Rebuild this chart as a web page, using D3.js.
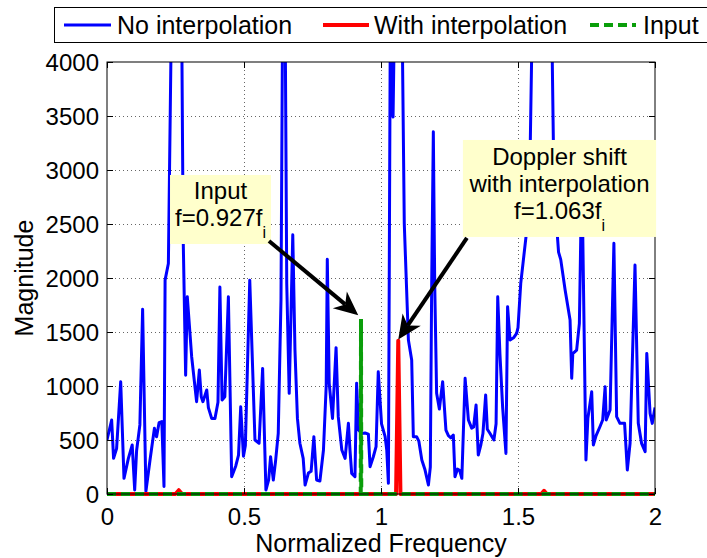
<!DOCTYPE html>
<html>
<head>
<meta charset="utf-8">
<script src="https://cdn.jsdelivr.net/npm/d3@7"></script>
<style>
  html, body { margin: 0; padding: 0; background: #fff; }
  svg text { font-family: "Liberation Sans", Arial, Helvetica, sans-serif; fill: #000; }
</style>
</head>
<body>
<svg id="chart" width="707" height="558"></svg>
<script>
// Spectrum without interpolation (normalized frequency, magnitude)
const blueFreq = [0.000,0.017,0.024,0.035,0.050,0.062,0.078,0.092,0.101,0.108,0.120,0.130,0.142,0.157,0.173,0.181,0.190,0.200,0.208,0.212,0.224,0.236,0.255,0.272,0.278,0.287,0.293,0.309,0.327,0.337,0.344,0.350,0.364,0.370,0.382,0.394,0.405,0.412,0.420,0.430,0.443,0.455,0.470,0.480,0.488,0.498,0.505,0.521,0.540,0.555,0.568,0.580,0.590,0.597,0.607,0.615,0.625,0.635,0.641,0.650,0.656,0.665,0.678,0.686,0.695,0.704,0.716,0.723,0.735,0.745,0.755,0.765,0.777,0.790,0.800,0.804,0.811,0.823,0.836,0.844,0.857,0.869,0.881,0.887,0.893,0.905,0.911,0.918,0.930,0.942,0.954,0.960,0.972,0.982,0.990,1.002,1.015,1.021,1.027,1.034,1.040,1.044,1.049,1.062,1.077,1.085,1.100,1.112,1.118,1.130,1.138,1.149,1.160,1.173,1.180,1.185,1.191,1.196,1.203,1.213,1.225,1.237,1.246,1.255,1.264,1.270,1.279,1.287,1.295,1.307,1.319,1.331,1.338,1.347,1.355,1.364,1.372,1.382,1.388,1.398,1.412,1.420,1.426,1.434,1.444,1.456,1.462,1.471,1.485,1.495,1.500,1.510,1.530,1.545,1.552,1.590,1.623,1.629,1.644,1.648,1.656,1.672,1.690,1.696,1.700,1.714,1.724,1.733,1.748,1.755,1.769,1.775,1.785,1.799,1.809,1.818,1.822,1.836,1.850,1.860,1.872,1.889,1.899,1.909,1.927,1.939,1.951,1.964,1.970,1.982,1.990,2.000];
const blueMag  = [500,685,330,420,1040,145,330,454,37,400,640,1710,25,315,608,530,660,670,70,1980,2135,4600,5200,4600,2380,1100,1827,1271,855,1148,900,855,963,800,700,700,850,1916,870,900,1827,160,260,360,808,350,450,1980,500,470,1163,37,130,345,130,300,561,1800,4500,4500,1950,932,2400,1333,700,470,330,83,194,210,531,130,120,407,1000,2173,1025,700,1355,716,407,330,654,400,191,160,1025,592,560,565,555,253,345,438,1132,650,531,407,99,4400,3600,3490,4400,5500,4400,2500,1426,1240,531,531,490,315,230,83,250,1950,3355,1950,932,787,1040,592,540,520,546,160,230,220,145,1071,685,610,620,824,361,450,560,917,600,560,500,650,1827,1300,800,376,1734,1426,1450,1488,1540,1950,2400,3280,4400,6000,4400,3280,2380,2240,2170,1889,1611,1071,1300,1333,1580,3000,315,700,947,454,540,623,685,994,685,777,2321,716,654,654,222,469,2120,654,469,392,1302,747,654,800];

// Spectrum with interpolation
const redFreq = [0.000,0.250,0.262,0.274,1.055,1.063,1.071,1.585,1.595,1.605,2.000];
const redMag  = [0,0,35,0,0,1420,0,0,30,0,0];

// Input tone
const greenFreq = [0.000,0.926,0.927,0.928,2.000];
const greenMag  = [0,0,1620,0,0];

const xTicks = [0, 0.5, 1, 1.5, 2];
const yTicks = [0, 500, 1000, 1500, 2000, 2500, 3000, 3500, 4000];

const seriesNames = ["No interpolation", "With interpolation", "Input"];
const seriesColors = ["#0000ff", "#ff0000", "#0a9e0a"];

const svg = d3.select("#chart");
const plotL = 107, plotR = 655, plotT = 62, plotB = 494;
const FONT = 24, LABEL_FONT = 25;

const x = d3.scaleLinear().domain([0, 2]).range([plotL, plotR]);
const y = d3.scaleLinear().domain([0, 4000]).range([plotB, plotT]);

svg.append("rect").attr("x", 0).attr("y", 0).attr("width", 707).attr("height", 558).attr("fill", "#fff");

// grid
const grid = svg.append("g").attr("stroke", "#666").attr("stroke-width", 1).attr("stroke-dasharray", "1,3");
grid.selectAll(".gx").data(xTicks.slice(1, -1)).join("line")
  .attr("x1", d => x(d) + 0.5).attr("x2", d => x(d) + 0.5).attr("y1", plotT).attr("y2", plotB);
grid.selectAll(".gy").data(yTicks.slice(1, -1)).join("line")
  .attr("y1", d => Math.round(y(d)) + 0.5).attr("y2", d => Math.round(y(d)) + 0.5).attr("x1", plotL).attr("x2", plotR);

// clip for data lines (lets the zero-level lines show their full width)
svg.append("defs").append("clipPath").attr("id", "plotclip")
  .append("rect").attr("x", plotL).attr("y", plotT).attr("width", plotR - plotL).attr("height", plotB - plotT + 3);

const line = d3.line().x(d => x(d[0])).y(d => y(d[1]));
const plot = svg.append("g").attr("clip-path", "url(#plotclip)");

plot.append("path").datum(d3.zip(blueFreq, blueMag)).attr("d", line)
  .attr("fill", "none").attr("stroke", seriesColors[0]).attr("stroke-width", 3)
  .attr("stroke-linejoin", "round");
plot.append("path").datum(d3.zip(redFreq, redMag)).attr("d", line)
  .attr("fill", "none").attr("stroke", seriesColors[1]).attr("stroke-width", 4)
  .attr("stroke-linejoin", "round");
plot.append("path").datum(d3.zip(greenFreq, greenMag)).attr("d", line)
  .attr("fill", "none").attr("stroke", seriesColors[2]).attr("stroke-width", 4)
  .attr("stroke-dasharray", "9,5");

// axes box and ticks (inward, all four sides)
const axisG = svg.append("g");
const xb = axisG.append("g").attr("transform", `translate(0,${plotB})`)
  .call(d3.axisBottom(x).tickValues(xTicks).tickSize(-6).tickPadding(14).tickFormat(d3.format("")));
const yl = axisG.append("g").attr("transform", `translate(${plotL},0)`)
  .call(d3.axisLeft(y).tickValues(yTicks).tickSize(-6).tickPadding(8).tickFormat(d3.format("d")));
const xt = axisG.append("g").attr("transform", `translate(0,${plotT})`)
  .call(d3.axisTop(x).tickValues(xTicks).tickSize(-6).tickFormat(""));
const yr = axisG.append("g").attr("transform", `translate(${plotR},0)`)
  .call(d3.axisRight(y).tickValues(yTicks).tickSize(-6).tickFormat(""));
[xb, yl, xt, yr].forEach(g => {
  g.select(".domain").remove();
  g.selectAll("line").attr("stroke", "#000");
  g.selectAll("text").attr("font-size", FONT).attr("font-family", "Liberation Sans, Arial, sans-serif").attr("fill", "#000");
});
yl.selectAll("text").attr("dy", "0.36em");
axisG.append("rect").attr("x", plotL).attr("y", plotT).attr("width", plotR - plotL).attr("height", plotB - plotT)
  .attr("fill", "none").attr("stroke", "#000").attr("stroke-width", 1);

// axis titles
svg.append("text").attr("x", (plotL + plotR) / 2).attr("y", 552).attr("text-anchor", "middle")
  .attr("font-size", LABEL_FONT).text("Normalized Frequency");
svg.append("text").attr("transform", `translate(33,${(plotT + plotB) / 2}) rotate(-90)`)
  .attr("text-anchor", "middle").attr("font-size", LABEL_FONT).text("Magnitude");

// annotations: text boxes with arrows
function arrow(x0, y0, x1, y1) {
  const ang = Math.atan2(y1 - y0, x1 - x0);
  const L = 24, W = 11, notch = 17;
  const ux = Math.cos(ang), uy = Math.sin(ang), px = -uy, py = ux;
  const bx = x1 - ux * L, by = y1 - uy * L;
  const nx = x1 - ux * notch, ny = y1 - uy * notch;
  svg.append("line").attr("x1", x0).attr("y1", y0).attr("x2", nx).attr("y2", ny)
    .attr("stroke", "#000").attr("stroke-width", 4);
  svg.append("path")
    .attr("d", `M${x1},${y1}L${bx + px * W},${by + py * W}L${nx},${ny}L${bx - px * W},${by - py * W}Z`)
    .attr("fill", "#000");
}

// one multi-line text block per box
function noteBox(f0, f1, m0, m1, lines) {
  const bx0 = x(f0), bx1 = x(f1), by0 = y(m1), by1 = y(m0);
  svg.append("rect").attr("x", bx0).attr("y", by0).attr("width", bx1 - bx0).attr("height", by1 - by0)
    .attr("fill", "#ffffcc");
  const cx = (bx0 + bx1) / 2;
  const t = svg.append("text").attr("text-anchor", "middle").attr("font-size", FONT);
  lines.forEach((ln) => {
    t.append("tspan").attr("x", cx).attr("y", ln.y).text(ln.text);
    if (ln.sub) t.append("tspan").attr("font-size", 16).attr("dy", 12).text(ln.sub);
  });
  return { bx0, bx1, by0, by1 };
}

const inputBox = noteBox(0.230, 0.5985, 2315, 2954, [
  { text: "Input", y: 199 },
  { text: "f=0.927f", sub: "i", y: 226 }
]);
arrow(inputBox.bx1 - 2, inputBox.by1 - 3, x(0.917), y(1655));

const dopBox = noteBox(1.299, 2.004, 2380, 3278, [
  { text: "Doppler shift", y: 165 },
  { text: "with interpolation", y: 192 },
  { text: "f=1.063f", sub: "i", y: 219 }
]);
arrow(dopBox.bx0 + 4, dopBox.by1 + 1, x(1.063), y(1430));

// legend
const leg = svg.append("g");
leg.append("rect").attr("x", 54.5).attr("y", 7.5).attr("width", 660).attr("height", 35)
  .attr("fill", "#fff").attr("stroke", "#000").attr("stroke-width", 1);
const legItems = [
  { x0: 64, x1: 111, tx: 117, dash: null, w: 3 },
  { x0: 323, x1: 369, tx: 374, dash: null, w: 4 },
  { x0: 590, x1: 636, tx: 643, dash: "9,5", w: 4 }
];
legItems.forEach((it, i) => {
  leg.append("line").attr("x1", it.x0).attr("x2", it.x1).attr("y1", 25).attr("y2", 25)
    .attr("stroke", seriesColors[i]).attr("stroke-width", it.w)
    .attr("stroke-dasharray", it.dash);
  leg.append("text").attr("x", it.tx).attr("y", 33.5).attr("font-size", LABEL_FONT).text(seriesNames[i]);
});
</script>
</body>
</html>
